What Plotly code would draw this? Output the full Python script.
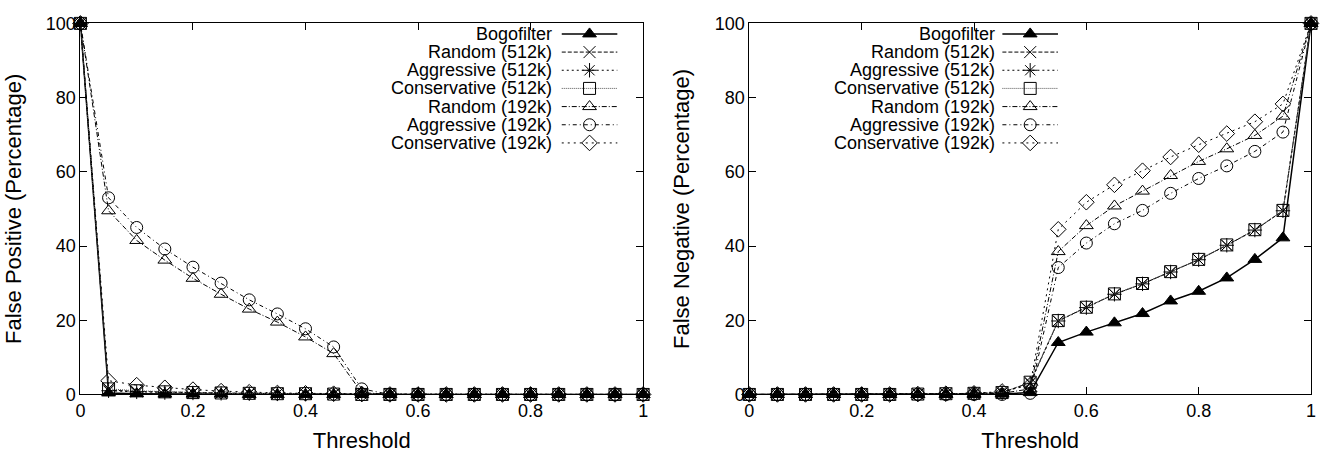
import plotly.graph_objects as go

thresholds = [round(i * 0.05, 2) for i in range(21)]

series_names = ["Bogofilter", "Random (512k)", "Aggressive (512k)", "Conservative (512k)",
                "Random (192k)", "Aggressive (192k)", "Conservative (192k)"]

# False positive (%) vs threshold
fp_bogofilter = [100, 0.4, 0.2, 0.1, 0.1, 0.1, 0, 0, 0, 0, 0, 0, 0, 0, 0, 0, 0, 0, 0, 0, 0]
fp_random_512 = [100, 1.2, 0.8, 0.6, 0.5, 0.4, 0.3, 0.2, 0.2, 0.1, 0, 0, 0, 0, 0, 0, 0, 0, 0, 0, 0]
fp_aggr_512 = [100, 1.0, 0.7, 0.5, 0.4, 0.3, 0.2, 0.2, 0.1, 0.1, 0, 0, 0, 0, 0, 0, 0, 0, 0, 0, 0]
fp_cons_512 = [100, 1.5, 1.0, 0.7, 0.5, 0.4, 0.3, 0.2, 0.2, 0.1, 0, 0, 0, 0, 0, 0, 0, 0, 0, 0, 0]
fp_random_192 = [100, 49.5, 41.5, 36.2, 31.3, 27.0, 23.0, 19.5, 15.5, 11.0, 0.5, 0, 0, 0, 0, 0, 0, 0, 0, 0, 0]
fp_aggr_192 = [100, 53.0, 45.0, 39.2, 34.3, 30.0, 25.5, 21.7, 17.7, 12.8, 1.5, 0, 0, 0, 0, 0, 0, 0, 0, 0, 0]
fp_cons_192 = [100, 3.7, 2.5, 1.8, 1.3, 0.9, 0.6, 0.4, 0.3, 0.2, 0.1, 0, 0, 0, 0, 0, 0, 0, 0, 0, 0]

# False negative (%) vs threshold
fn_bogofilter = [0, 0, 0, 0, 0, 0, 0, 0, 0, 0.1, 0.5, 14.0, 16.8, 19.3, 21.8, 25.2, 27.8, 31.4, 36.4, 42.2, 100]
fn_random_512 = [0, 0, 0, 0, 0, 0, 0.1, 0.2, 0.3, 0.5, 3.2, 19.8, 23.5, 27.0, 29.8, 33.0, 36.3, 40.2, 44.3, 49.5, 100]
fn_aggr_512 = [0, 0, 0, 0, 0, 0, 0.1, 0.2, 0.3, 0.5, 3.0, 19.8, 23.4, 27.0, 29.8, 33.0, 36.3, 40.2, 44.3, 49.5, 100]
fn_cons_512 = [0, 0, 0, 0, 0, 0, 0.1, 0.2, 0.3, 0.5, 3.3, 19.9, 23.5, 27.1, 29.9, 33.1, 36.4, 40.3, 44.4, 49.6, 100]
fn_random_192 = [0, 0, 0, 0, 0, 0, 0, 0.1, 0.2, 0.3, 1.5, 38.5, 45.5, 50.8, 54.8, 59.0, 62.8, 66.2, 69.8, 75.0, 100]
fn_aggr_192 = [0, 0, 0, 0, 0, 0, 0, 0, 0, 0, 0.3, 34.2, 40.8, 46.0, 49.6, 54.2, 58.2, 61.6, 65.5, 70.7, 100]
fn_cons_192 = [0, 0, 0, 0, 0, 0, 0.1, 0.2, 0.3, 0.8, 2.5, 44.5, 51.8, 56.5, 60.3, 64.0, 67.3, 70.3, 73.5, 78.3, 100]

fp_series = [fp_bogofilter, fp_random_512, fp_aggr_512, fp_cons_512, fp_random_192, fp_aggr_192, fp_cons_192]
fn_series = [fn_bogofilter, fn_random_512, fn_aggr_512, fn_cons_512, fn_random_192, fn_aggr_192, fn_cons_192]

x_ticks = [0, 0.2, 0.4, 0.6, 0.8, 1]
x_tick_labels = ["0", "0.2", "0.4", "0.6", "0.8", "1"]
y_ticks = [0, 20, 40, 60, 80, 100]
y_tick_labels = ["0", "20", "40", "60", "80", "100"]

styles = [
    dict(symbol="triangle-up", dash="solid", lc="black", lw=1.5),
    dict(symbol="x-thin-open", dash="4px,2px", lc="black", lw=1),
    dict(symbol="asterisk-open", dash="2px,3px", lc="black", lw=1),
    dict(symbol="square-open", dash="1px,1px", lc="#555555", lw=1),
    dict(symbol="triangle-up-open", dash="5px,2px,1px,2px", lc="black", lw=1),
    dict(symbol="circle-open", dash="4px,3px,1px,3px", lc="black", lw=1),
    dict(symbol="diamond-open", dash="2px,4px", lc="black", lw=1),
]

W, H = 1321, 458
FONT = "Liberation Sans, Arial, Helvetica, sans-serif"
FS = 18
MS = 12

fig = go.Figure()

def add_series(xax, yax, data):
    for name, ys, st in zip(series_names, data, styles):
        fig.add_trace(go.Scatter(
            x=thresholds, y=ys, mode="lines+markers", name=name, showlegend=False,
            xaxis=xax, yaxis=yax, hoverinfo="skip", cliponaxis=False,
            line=dict(color=st["lc"], width=st["lw"], dash=st["dash"]),
            marker=dict(symbol=st["symbol"], size=MS, color="black",
                        line=dict(color="black", width=1)),
        ))

add_series("x", "y", fp_series)
add_series("x2", "y2", fn_series)

# custom gnuplot-style legends (text on the left, key sample on the right), in pixel space
def add_legend(xax, yax, text_right, sample_left, sample_right):
    row0, step = 25, 19
    for i, (name, st) in enumerate(zip(series_names, styles)):
        yy = row0 + step * i
        fig.add_trace(go.Scatter(
            x=[sample_left, (sample_left + sample_right) / 2, sample_right], y=[yy, yy, yy],
            mode="lines", showlegend=False, hoverinfo="skip", xaxis=xax, yaxis=yax,
            line=dict(color=st["lc"], width=st["lw"], dash=st["dash"]),
        ))
        fig.add_trace(go.Scatter(
            x=[(sample_left + sample_right) / 2], y=[yy], mode="markers", showlegend=False,
            hoverinfo="skip", xaxis=xax, yaxis=yax,
            marker=dict(symbol=st["symbol"], size=MS, color="black",
                        line=dict(color="black", width=1)),
        ))
        fig.add_annotation(x=text_right, y=yy, xref=xax, yref=yax, text=name,
                           showarrow=False, xanchor="right", yanchor="middle",
                           font=dict(family=FONT, size=FS, color="black"))

add_legend("x3", "y3", 553, 561, 617)
add_legend("x3", "y3", 1000, 1005, 1061)

x0L, x1L, x0R, x1R = 76, 643, 750, 1316
yTop, yBot = 14, 402

axis_common = dict(showgrid=False, zeroline=False, showline=True, linecolor="black",
                   linewidth=1, mirror="ticks", ticks="inside", ticklen=7,
                   tickcolor="black", tickfont=dict(family=FONT, size=FS, color="black"))

fig.update_layout(
    width=W, height=H, margin=dict(l=0, r=0, t=0, b=0),
    paper_bgcolor="white", plot_bgcolor="rgba(0,0,0,0)",
    font=dict(family=FONT, size=FS, color="black"),
    xaxis=dict(domain=[x0L / W, x1L / W], range=[0, 1], tickvals=x_ticks, ticktext=x_tick_labels,
               anchor="y", title=dict(text="Threshold", standoff=12), **axis_common),
    yaxis=dict(domain=[1 - yBot / H, 1 - yTop / H], range=[0, 100], tickvals=y_ticks,
               ticktext=y_tick_labels, anchor="x",
               title=dict(text="False Positive (Percentage)", standoff=18), **axis_common),
    xaxis2=dict(domain=[x0R / W, x1R / W], range=[0, 1], tickvals=x_ticks, ticktext=x_tick_labels,
                anchor="y2", title=dict(text="Threshold", standoff=12), **axis_common),
    yaxis2=dict(domain=[1 - yBot / H, 1 - yTop / H], range=[0, 100], tickvals=y_ticks,
                ticktext=y_tick_labels, anchor="x2",
                title=dict(text="False Negative (Percentage)", standoff=18), **axis_common),
    xaxis3=dict(domain=[0, 1], range=[0, W], visible=False, anchor="y3", fixedrange=True),
    yaxis3=dict(domain=[0, 1], range=[H, 0], visible=False, anchor="x3", fixedrange=True),
)

fig.write_html("out.html")
